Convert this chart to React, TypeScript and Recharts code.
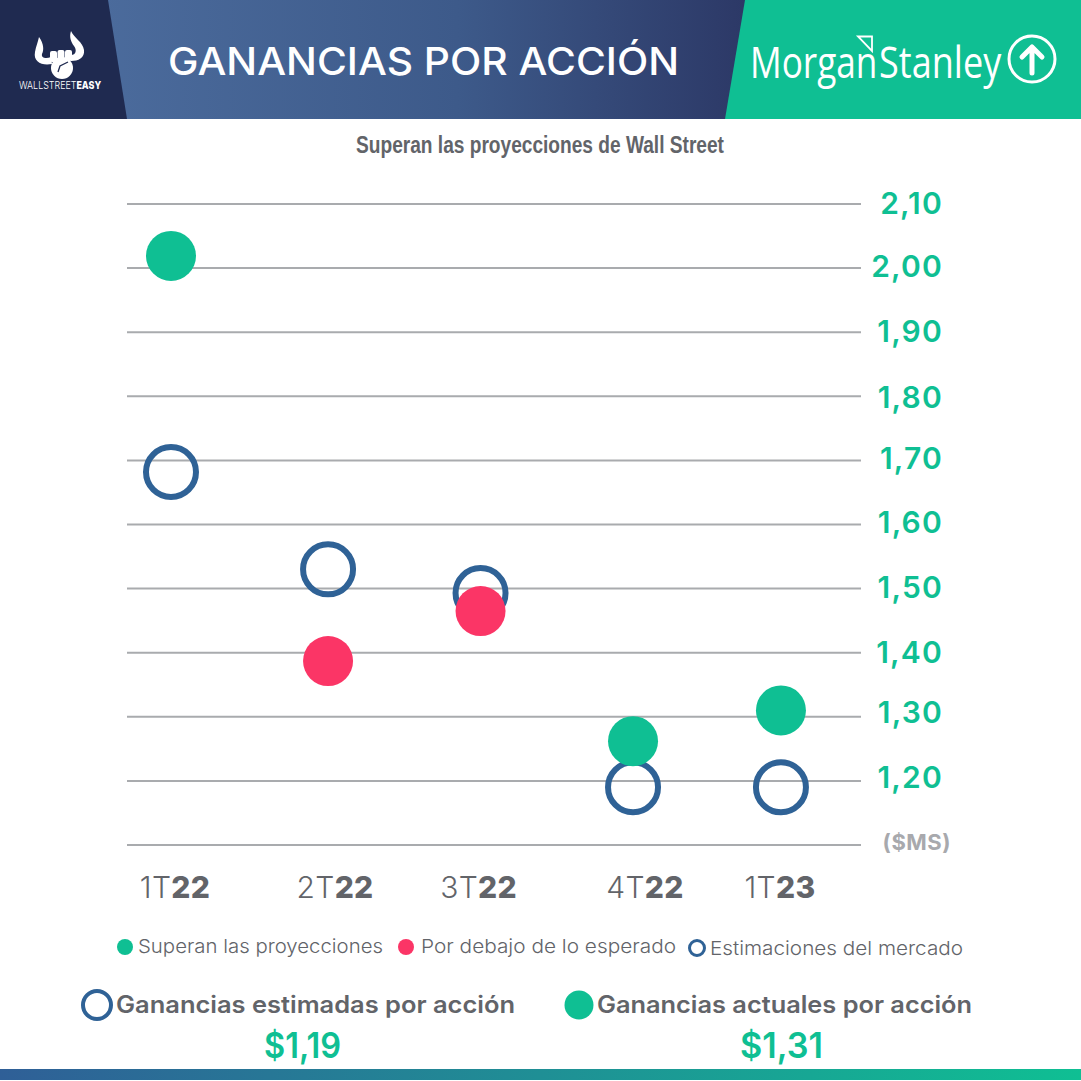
import React from 'react';
import { ScatterChart, Scatter, XAxis, YAxis, CartesianGrid } from 'recharts';

const GREEN = '#0fbf93';
const RED = '#fb3566';
const BLUE = '#2f6296';
const GREY = '#626469';

// quarters sit slightly unevenly along the axis in the picture
const quarterLabels = [['1T', '22'], ['2T', '22'], ['3T', '22'], ['4T', '22'], ['1T', '23']];
const quarterPos = [0, 1.03, 2.03, 3.03, 4];
const yTicks = [1.1, 1.2, 1.3, 1.4, 1.5, 1.6, 1.7, 1.8, 1.9, 2.0, 2.1];

const estimates = [
  { x: 0, y: 1.682 },
  { x: 1.03, y: 1.53 },
  { x: 2.03, y: 1.493 },
  { x: 3.03, y: 1.19 },
  { x: 4, y: 1.19 },
];
const beats = [
  { x: 0, y: 2.019 },
  { x: 3.03, y: 1.262 },
  { x: 4, y: 1.31 },
];
const misses = [
  { x: 1.03, y: 1.387 },
  { x: 2.03, y: 1.465 },
];

const labelShift: Record<string, number> = {
  '1.1': -3, '1.2': -4, '1.3': -5, '1.4': -1, '1.5': -2, '1.6': -3,
  '1.7': -2, '1.8': 1, '1.9': -1, '2': -2, '2.1': -1,
};
const xShift = [4, 7, -2, 12, -1];

const Filled = (color: string) => (p: any) => <circle cx={p.cx} cy={p.cy} r={25} fill={color} />;
const Ring = (p: any) => <circle cx={p.cx} cy={p.cy} r={25} fill="none" stroke={BLUE} strokeWidth={6} />;

const XTick = ({ x, index }: any) => {
  const [q, yr] = quarterLabels[index] ?? ['', ''];
  return (
    <text x={x + xShift[index]} y={898} textAnchor="middle" fontFamily="Inter" fontSize={30} letterSpacing={0.3} fill={GREY}>
      <tspan fontWeight={300}>{q}</tspan>
      <tspan fontWeight={800}>{yr}</tspan>
    </text>
  );
};

const YTick = ({ y, payload }: any) => {
  const v = payload.value;
  const cy = y + (labelShift[String(v)] ?? 0);
  if (v === 1.1) {
    return (
      <text x={951} y={cy + 8} textAnchor="end" fontFamily="Inter" fontWeight={700} fontSize={22} letterSpacing={0.5} fill="#a8a9ad">
        ($MS)
      </text>
    );
  }
  return (
    <text x={943} y={cy + 11} textAnchor="end" fontFamily="Inter" fontWeight={600} fontSize={30} letterSpacing={1.2} fill={GREEN}>
      {v.toFixed(2).replace('.', ',')}
    </text>
  );
};

const Header = () => (
  <svg width={1081} height={1081} style={{ position: 'absolute', left: 0, top: 0 }}>
    <defs>
      <linearGradient id="band" x1="0" y1="0" x2="1" y2="0">
        <stop offset="0%" stopColor="#4b6b9c" />
        <stop offset="55%" stopColor="#3d5a8a" />
        <stop offset="100%" stopColor="#2c3866" />
      </linearGradient>
      <linearGradient id="footer" x1="0" y1="0" x2="1" y2="0">
        <stop offset="0%" stopColor="#2f5f97" />
        <stop offset="100%" stopColor={GREEN} />
      </linearGradient>
    </defs>
    <rect x={100} y={0} width={650} height={119} fill="url(#band)" />
    <polygon points="0,0 108,0 127,119 0,119" fill="#1f2a50" />
    <polygon points="745,0 1081,0 1081,119 725,119" fill={GREEN} />

    {/* bull logo */}
    <g fill="#fff">
      <path d="M39,37 C44,44 44,50 42,54 C41,58 46,59 51,57 L52,64 C42,66 33,62 35,52 C36,46 38,42 39,37 Z" />
      <path d="M71,31 C74,38 83,42 84,50 C85,58 78,61 71,61 L71,55 C76,55 77,50 74,46 C71,42 69,37 71,31 Z" />
      <rect x={50} y={51} width={7} height={11} rx={2} />
      <rect x={57.5} y={50} width={7} height={11} rx={2} />
      <rect x={65} y={50} width={7} height={11} rx={2} />
      <circle cx={62} cy={68} r={11} />
    </g>
    <path d="M58,72 L60,66 L68,62" fill="none" stroke="#1f2a50" strokeWidth={1.3} />
    <text transform="translate(19,89) scale(0.85,1)" fontFamily="Inter" fontSize={10.5} fill="#fff">
      <tspan fontWeight={300}>WALLSTREET</tspan>
      <tspan fontWeight={800}>EASY</tspan>
    </text>

    <text x={168} y={75} fontFamily="Inter" fontWeight={500} fontSize={38} fill="#fff" textLength={511} lengthAdjust="spacingAndGlyphs">
      GANANCIAS POR ACCIÓN
    </text>

    {/* Morgan Stanley wordmark */}
    <text transform="translate(750,78) scale(0.8,1)" fontFamily="Open Sans" fontWeight={400} fontSize={44} fill="#fff">
      Morgan
    </text>
    <text transform="translate(879,78) scale(0.82,1)" fontFamily="Open Sans" fontWeight={400} fontSize={44} fill="#fff">
      Stanley
    </text>
    <polygon points="858,36.5 872,36.5 872,51" fill="none" stroke="#fff" strokeWidth={1.8} />
    <circle cx={1032} cy={59} r={23} fill="none" stroke="#fff" strokeWidth={3} />
    <path d="M1032,73 L1032,47 M1022,57 L1032,47 L1042,57" fill="none" stroke="#fff" strokeWidth={5} strokeLinecap="round" strokeLinejoin="round" />

    <text transform="translate(540,153) scale(0.797,1)" textAnchor="middle" fontFamily="Liberation Sans" fontWeight={700} fontSize={24} fill={GREY}>
      Superan las proyecciones de Wall Street
    </text>

    {/* legend */}
    <circle cx={125} cy={947} r={8} fill={GREEN} />
    <text x={138} y={953} fontFamily="Inter" fontWeight={300} fontSize={19} fill={GREY} textLength={245} lengthAdjust="spacingAndGlyphs">
      Superan las proyecciones
    </text>
    <circle cx={406} cy={947} r={8} fill={RED} />
    <text x={421} y={953} fontFamily="Inter" fontWeight={300} fontSize={19} fill={GREY} textLength={255} lengthAdjust="spacingAndGlyphs">
      Por debajo de lo esperado
    </text>
    <circle cx={697} cy={948} r={7.5} fill="none" stroke={BLUE} strokeWidth={3} />
    <text x={710} y={955} fontFamily="Inter" fontWeight={300} fontSize={19} fill={GREY} textLength={253} lengthAdjust="spacingAndGlyphs">
      Estimaciones del mercado
    </text>

    {/* summary */}
    <circle cx={97} cy={1005} r={14} fill="none" stroke={BLUE} strokeWidth={4} />
    <text x={116} y={1013} fontFamily="Inter" fontWeight={600} fontSize={24} fill={GREY} textLength={399} lengthAdjust="spacingAndGlyphs">
      Ganancias estimadas por acción
    </text>
    <circle cx={579} cy={1005} r={14.5} fill={GREEN} />
    <text x={597} y={1013} fontFamily="Inter" fontWeight={600} fontSize={24} fill={GREY} textLength={375} lengthAdjust="spacingAndGlyphs">
      Ganancias actuales por acción
    </text>
    <text x={264} y={1058} fontFamily="Inter" fontWeight={600} fontSize={36} fill={GREEN} textLength={77} lengthAdjust="spacingAndGlyphs">
      $1,19
    </text>
    <text x={740} y={1058} fontFamily="Inter" fontWeight={600} fontSize={36} fill={GREEN} textLength={83} lengthAdjust="spacingAndGlyphs">
      $1,31
    </text>

    <rect x={0} y={1069} width={1081} height={11} fill="url(#footer)" />
  </svg>
);

export default function App() {
  return (
    <div style={{ position: 'fixed', left: 0, top: 0, width: 1081, height: 1081, background: '#fff', overflow: 'hidden' }}>
      <Header />
      <div style={{ position: 'absolute', left: 0, top: 0 }}>
        <ScatterChart width={1081} height={1081} margin={{ top: 204, right: 0, bottom: 0, left: 127 }}>
          <CartesianGrid horizontal vertical={false} stroke="#a9abae" strokeWidth={2} />
          <XAxis
            type="number"
            dataKey="x"
            domain={[-0.2885, 4.525]}
            ticks={quarterPos}
            height={236}
            axisLine={false}
            tickLine={false}
            interval={0}
            tick={<XTick />}
          />
          <YAxis
            type="number"
            dataKey="y"
            orientation="right"
            domain={[1.1, 2.1]}
            ticks={yTicks}
            width={220}
            axisLine={false}
            tickLine={false}
            interval={0}
            tick={<YTick />}
          />
          <Scatter name="Estimaciones del mercado" data={estimates} shape={Ring} isAnimationActive={false} />
          <Scatter name="Superan las proyecciones" data={beats} shape={Filled(GREEN)} isAnimationActive={false} />
          <Scatter name="Por debajo de lo esperado" data={misses} shape={Filled(RED)} isAnimationActive={false} />
        </ScatterChart>
      </div>
    </div>
  );
}
